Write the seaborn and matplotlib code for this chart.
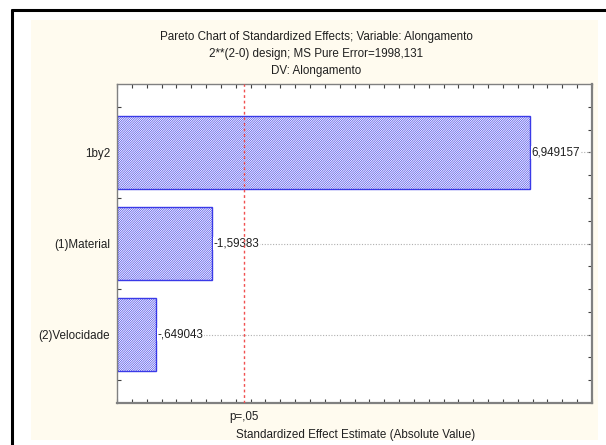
import numpy as np
import pandas as pd
import matplotlib
matplotlib.use("Agg")
import matplotlib.pyplot as plt
from matplotlib.patches import Rectangle
from matplotlib.lines import Line2D
import seaborn as sns

# Effect estimates from the 2**(2-0) design
effects = ["1by2", "(1)Material", "(2)Velocidade"]
estimates = [6.949157, -1.59383, -0.649043]
t_critical = 2.1314  # p = .05 reference line
title_lines = [
    "Pareto Chart of Standardized Effects; Variable: Alongamento",
    "2**(2-0) design; MS Pure Error=1998,131",
    "DV: Alongamento",
]
x_label = "Standardized Effect Estimate (Absolute Value)"
p_label = "p=,05"


def fmt(v):
    s = str(v).replace(".", ",")
    s = s.replace("-0,", "-,")
    if s.startswith("0,"):
        s = s[1:]
    return s


sns.set_theme(style="white")
plt.rcParams["font.family"] = ["Liberation Sans", "DejaVu Sans"]
plt.rcParams["hatch.linewidth"] = 0.45
plt.rcParams["hatch.color"] = "#4a4af0"

FS = 8.4
TXT = "#202020"

df = pd.DataFrame({"effect": effects, "abs_effect": np.abs(estimates)})

fig = plt.figure(figsize=(6.06, 4.45), dpi=100)
fig.patch.set_facecolor("white")
W, H = 606, 445

# outer frame and cream panel
fig.add_artist(Rectangle((31 / W, 1 - 440 / H), (598 - 31) / W, (440 - 20) / H,
                         transform=fig.transFigure, facecolor="#fffbef",
                         edgecolor="none", zorder=0))
fig.add_artist(Line2D([12 / W, 12 / W], [0, 1 - 10 / H], transform=fig.transFigure,
                      color="black", lw=2.2))
fig.add_artist(Line2D([12 / W, 1], [1 - 10 / H, 1 - 10 / H], transform=fig.transFigure,
                      color="black", lw=2.2))

ax = fig.add_axes([117 / W, 1 - 403 / H, (592 - 117) / W, (403 - 84) / H])
ax.set_facecolor("white")

sns.barplot(data=df, x="abs_effect", y="effect", orient="h", width=0.8,
            color="white", ax=ax, zorder=2)
for p in ax.patches:
    p.set_facecolor("white")
    p.set_edgecolor("#3a3ae8")
    p.set_hatch("/" * 15)
    p.set_linewidth(1.0)

# dotted guide lines at each effect
for i in range(len(effects)):
    ax.axhline(i, color="#b0b0b0", lw=0.8, ls=(0, (1, 1.5)), zorder=1)

# value labels
for i, (v, a) in enumerate(zip(estimates, np.abs(estimates))):
    ax.text(a + 0.03, i, fmt(v), va="center", ha="left", fontsize=FS,
            color=TXT, zorder=3,
            bbox=dict(facecolor="white", edgecolor="none", pad=0.5))

ax.axvline(t_critical, color="#f05050", lw=1.0, ls=(0, (2, 2)), zorder=4)

ax.set_xlim(0, 8)
ax.set_ylim(2.75, -0.75)
ax.set_xticks(np.arange(0, 8.01, 0.25))
ax.set_xticklabels([])
ax.set_yticks(range(len(effects)))
ax.set_yticklabels(effects, fontsize=FS, color=TXT)
ax.set_yticks(np.arange(-0.5, 2.51, 0.25), minor=True)
ax.tick_params(axis="both", which="both", direction="in", length=3, width=0.8,
               color="#404040", top=True, right=True, bottom=True, left=True)
ax.tick_params(axis="y", which="major", pad=5)
ax.set_xlabel("")
ax.set_ylabel("")
for s in ax.spines.values():
    s.set_color("#808080")
    s.set_linewidth(1.0)
ax.spines["right"].set_linewidth(1.6)
ax.spines["bottom"].set_linewidth(1.6)

ax.text(t_critical, -0.025, p_label, transform=ax.get_xaxis_transform(),
        ha="center", va="top", fontsize=FS, color=TXT)
fig.text(356 / W, 1 - 435 / H, x_label, ha="center", va="center",
         fontsize=FS, color=TXT)

for k, line in enumerate(title_lines):
    fig.text(316 / W, 1 - (37 + 17 * k) / H, line, ha="center", va="center",
             fontsize=FS, color=TXT)

fig.savefig("out.png", dpi=100)
